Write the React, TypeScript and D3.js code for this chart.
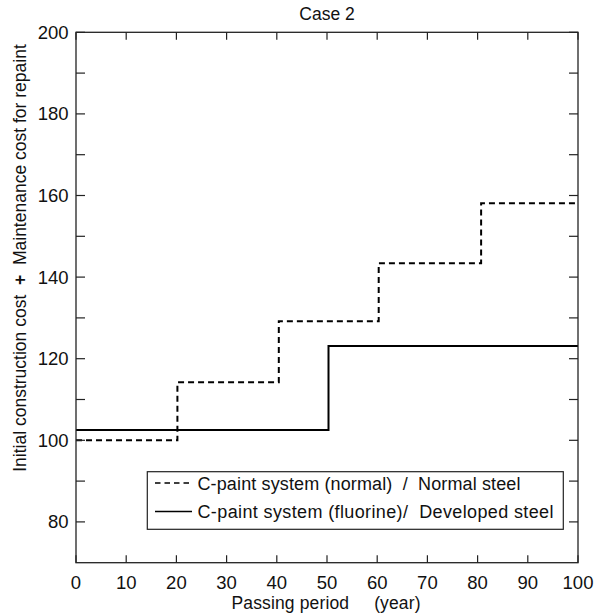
import React from "react";
import * as d3 from "d3";

const xTicks = [0, 10, 20, 30, 40, 50, 60, 70, 80, 90, 100];
const yTicksMinor = [80, 90, 100, 110, 120, 130, 140, 150, 160, 170, 180, 190, 200];
const yTickLabels = [80, 100, 120, 140, 160, 180, 200];

// step series: [year, value] — value holds from this year to the next
const normalYears = [0, 20.2, 40.4, 60.3, 80.7, 100];
const normalValues = [100, 114.2, 129.2, 143.4, 158.1, 158.1];
const fluorineYears = [0, 50.3, 100];
const fluorineValues = [102.5, 123.1, 123.1];

const legendLabels = [
  "C-paint system (normal)  /  Normal steel",
  "C-paint system (fluorine)/  Developed steel",
];
const legendLengths = [323, 356];

const W = 596;
const H = 614;
const M = { left: 76, right: 578, top: 32.3, bottom: 562.7 };
const FONT = "Liberation Sans, Arial, Helvetica, sans-serif";

export default function App() {
  const x = d3.scaleLinear().domain([0, 100]).range([M.left, M.right]);
  const y = d3.scaleLinear().domain([70, 200]).range([M.bottom, M.top]);
  const line = d3
    .line<[number, number]>()
    .x((d) => x(d[0]))
    .y((d) => y(d[1]))
    .curve(d3.curveStepAfter);
  const normalPts = normalYears.map((t, i) => [t, normalValues[i]] as [number, number]);
  const fluorPts = fluorineYears.map((t, i) => [t, fluorineValues[i]] as [number, number]);

  const lx = 147.3, ly = 471.7, lw = 416, lh = 57.6;

  return (
    <svg
      width={W}
      height={H}
      style={{ position: "absolute", left: 0, top: 0, background: "#fff" }}
      fontFamily={FONT}
    >
      <rect x={0} y={0} width={W} height={H} fill="#fff" />
      {/* data lines */}
      <path d={line(fluorPts) || ""} fill="none" stroke="#000" strokeWidth={2} />
      <path d={line(normalPts) || ""} fill="none" stroke="#000" strokeWidth={2} strokeDasharray="6,4" />

      {/* frame */}
      <rect
        x={M.left}
        y={M.top}
        width={M.right - M.left}
        height={M.bottom - M.top}
        fill="none"
        stroke="#222"
        strokeWidth={1.3}
      />
      {/* x ticks top & bottom */}
      {xTicks.map((t) => (
        <g key={"xt" + t}>
          <line x1={x(t)} x2={x(t)} y1={M.bottom} y2={M.bottom - 7.5} stroke="#222" strokeWidth={1.2} />
          <line x1={x(t)} x2={x(t)} y1={M.top} y2={M.top + 7.5} stroke="#222" strokeWidth={1.2} />
          <text x={x(t)} y={588.5} textAnchor="middle" fontSize={18.5} fill="#111">
            {t}
          </text>
        </g>
      ))}
      {/* y ticks left & right */}
      {yTicksMinor.map((t) => (
        <g key={"yt" + t}>
          <line x1={M.left} x2={M.left + 9} y1={y(t)} y2={y(t)} stroke="#222" strokeWidth={1.2} />
          <line x1={M.right} x2={M.right - 9} y1={y(t)} y2={y(t)} stroke="#222" strokeWidth={1.2} />
        </g>
      ))}
      {yTickLabels.map((t) => (
        <text key={"yl" + t} x={68.5} y={y(t) + 6.5} textAnchor="end" fontSize={18.5} fill="#111">
          {t}
        </text>
      ))}

      {/* title */}
      <text x={327} y={20} textAnchor="middle" fontSize={17.5} fill="#111">
        Case 2
      </text>
      {/* x label */}
      <text
        x={326}
        y={608.5}
        textAnchor="middle"
        fontSize={17.5}
        fill="#111"
        textLength={189}
        style={{ whiteSpace: "pre" }}
      >
        {"Passing period     (year)"}
      </text>
      {/* y label */}
      <text
        transform={`translate(26,258) rotate(-90)`}
        textAnchor="middle"
        fontSize={17.5}
        fill="#111"
        style={{ whiteSpace: "pre" }}
      >
        {"Initial construction cost  "}
        <tspan fontWeight="bold">+</tspan>
        {"  Maintenance cost for repaint"}
      </text>

      {/* legend */}
      <rect x={lx} y={ly} width={lw} height={lh} fill="#fff" stroke="#222" strokeWidth={1.2} />
      <line x1={155} x2={192} y1={483} y2={483} stroke="#000" strokeWidth={1.6} strokeDasharray="5.5,4" />
      <line x1={155} x2={192} y1={511.5} y2={511.5} stroke="#000" strokeWidth={1.6} />
      {legendLabels.map((s, i) => (
        <text
          key={s}
          x={197.5}
          y={489.5 + i * 28}
          fontSize={18}
          fill="#111"
          textLength={legendLengths[i]}
          style={{ whiteSpace: "pre" }}
        >
          {s}
        </text>
      ))}
    </svg>
  );
}
